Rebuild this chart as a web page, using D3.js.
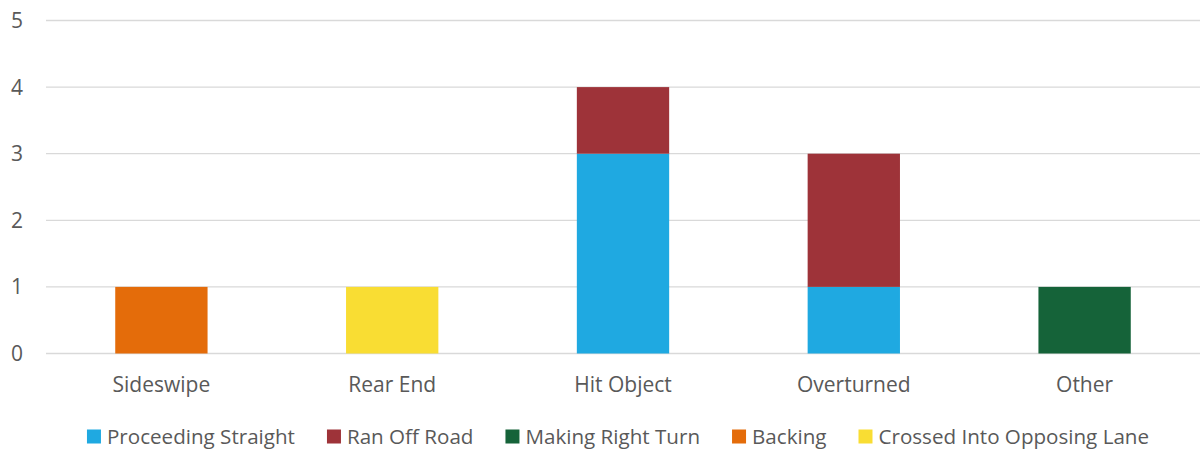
<!DOCTYPE html>
<html>
<head>
<meta charset="utf-8">
<script src="https://cdn.jsdelivr.net/npm/d3@7"></script>
<style>
  html, body { margin: 0; padding: 0; background: #fff; }
  svg { display: block; }
  text { font-family: "Open Sans", sans-serif; fill: #595959; }
</style>
</head>
<body>
<svg id="chart" width="1204" height="449"></svg>
<script>
// Collision types along the x axis
const categories = ["Sideswipe", "Rear End", "Hit Object", "Overturned", "Other"];

// Manner of collision series (stacked in this order, bottom to top)
const seriesNames = ["Proceeding Straight", "Ran Off Road", "Making Right Turn", "Backing", "Crossed Into Opposing Lane"];
const seriesColors = ["#1fa9e1", "#9e3339", "#156339", "#e46c0a", "#f9dd33"];

const proceedingStraight = [0, 0, 3, 1, 0];
const ranOffRoad = [0, 0, 1, 2, 0];
const makingRightTurn = [0, 0, 0, 0, 1];
const backing = [1, 0, 0, 0, 0];
const crossedIntoOpposingLane = [0, 1, 0, 0, 0];

const yTicks = [0, 1, 2, 3, 4, 5];

const seriesValues = [proceedingStraight, ranOffRoad, makingRightTurn, backing, crossedIntoOpposingLane];
const rows = categories.map((c, i) => {
  const r = { category: c };
  seriesNames.forEach((s, k) => { r[s] = seriesValues[k][i]; });
  return r;
});

const svg = d3.select("#chart");
const margin = { left: 46, right: 4, top: 20.5, bottom: 95.5 };
const W = 1204, H = 449;
const axisFont = 21;
const legendFont = 20.6;

const x = d3.scaleBand()
  .domain(categories)
  .range([margin.left, W - margin.right])
  .paddingInner(0.6)
  .paddingOuter(0.3);

const y = d3.scaleLinear()
  .domain([0, 5])
  .range([H - margin.bottom, margin.top]);

// Horizontal gridlines
svg.append("g")
  .selectAll("line")
  .data(yTicks)
  .join("line")
  .attr("x1", margin.left)
  .attr("x2", W - margin.right)
  .attr("y1", d => y(d))
  .attr("y2", d => y(d))
  .attr("stroke", "#d9d9d9")
  .attr("stroke-width", 1.3);

// Y tick labels
svg.append("g")
  .selectAll("text")
  .data(yTicks)
  .join("text")
  .attr("x", 23)
  .attr("y", d => y(d) + 7.5)
  .attr("text-anchor", "end")
  .attr("font-size", axisFont)
  .text(d => d);

// Stacked bars
const stack = d3.stack().keys(seriesNames);
const stacked = stack(rows);

svg.append("g")
  .selectAll("g")
  .data(stacked)
  .join("g")
  .attr("fill", (d, i) => seriesColors[i])
  .selectAll("rect")
  .data(d => d.filter(p => p[1] - p[0] > 0))
  .join("rect")
  .attr("x", d => x(d.data.category))
  .attr("width", x.bandwidth())
  .attr("y", d => y(d[1]))
  .attr("height", d => y(d[0]) - y(d[1]));

// Category labels
svg.append("g")
  .selectAll("text")
  .data(categories)
  .join("text")
  .attr("x", d => x(d) + x.bandwidth() / 2)
  .attr("y", 391.5)
  .attr("text-anchor", "middle")
  .attr("font-size", axisFont)
  .text(d => d);

// Legend
const legend = svg.append("g");
const sw = 14, gapText = 6, gapItem = 32;
const items = legend.selectAll("g")
  .data(seriesNames)
  .join("g");
items.append("rect")
  .attr("width", sw).attr("height", sw)
  .attr("y", 429.5)
  .attr("fill", (d, i) => seriesColors[i]);
items.append("text")
  .attr("x", sw + gapText)
  .attr("y", 443.5)
  .attr("font-size", legendFont)
  .text(d => d);

let widths = [];
items.each(function () { widths.push(d3.select(this).select("text").node().getComputedTextLength()); });
const total = d3.sum(widths, w => sw + gapText + w) + gapItem * (widths.length - 1);
let cx = (margin.left + W - margin.right) / 2 - total / 2 - 5;
items.attr("transform", (d, i) => {
  const t = `translate(${cx},0)`;
  cx += sw + gapText + widths[i] + gapItem;
  return t;
});
</script>
</body>
</html>
